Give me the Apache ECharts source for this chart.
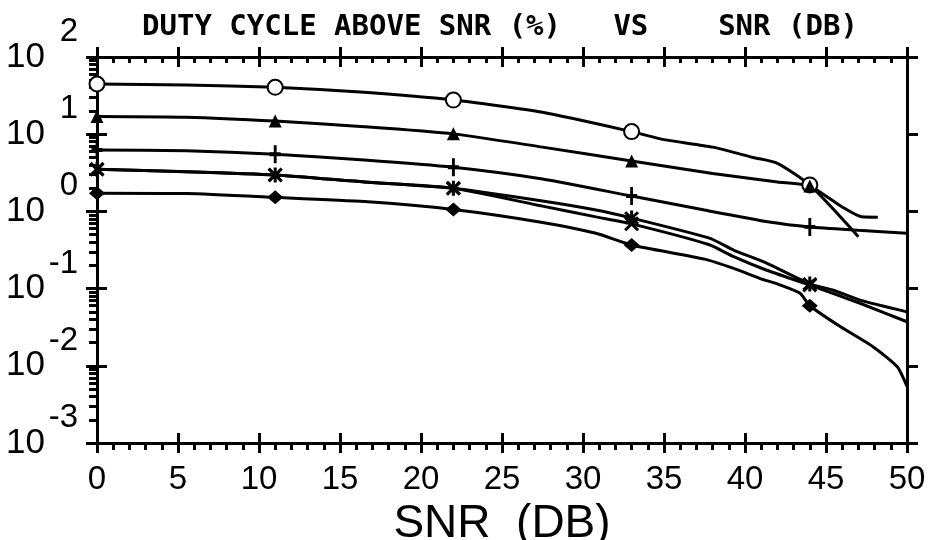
<!DOCTYPE html>
<html>
<head>
<meta charset="utf-8">
<script src="https://cdn.jsdelivr.net/npm/echarts@6/dist/echarts.min.js"></script>
<style>
html, body { margin: 0; background: #fff; }
#main { width: 941px; height: 540px; }
</style>
</head>
<body>
<div id="main"></div>
<script>
// SNR (dB) where the plotter put a marker on every curve
var markerSnr = [0, 11, 22, 33, 44];

// circle curve
var snrCircle = [0, 5.5, 11, 16.5, 22, 27.5, 33, 35, 38, 40.5, 42, 44, 47];
var dutyCircle = [44.7, 43.4, 40.5, 34.9, 27.7, 19.2, 10.8, 8.5, 6.8, 5.0, 4.2, 2.2, 0.47];

// triangle curve
var snrTri = [0, 5.5, 11, 16.5, 22, 27.5, 33, 38, 42, 44, 46, 47.2, 48.2];
var dutyTri = [17.0, 16.6, 14.8, 12.5, 10.1, 6.8, 4.5, 3.1, 2.4, 2.13, 1.14, 0.85, 0.84];

// plus curve
var snrPlus = [0, 5.5, 11, 16.5, 22, 27.5, 33, 37.5, 41.5, 44, 47, 50];
var dutyPlus = [6.24, 6.1, 5.49, 4.63, 3.73, 2.63, 1.58, 1.04, 0.73, 0.63, 0.57, 0.52];

// asterisk curve
var snrStar = [0, 5.5, 11, 16.5, 22, 27.5, 30.8, 33, 37.8, 39.3, 41.3, 44, 45.4, 47.1, 50];
var dutyStar = [3.51, 3.27, 2.96, 2.40, 1.99, 1.36, 1.04, 0.82, 0.45, 0.316, 0.215, 0.115, 0.096, 0.071, 0.050];

// cross curve
var snrCross = [0, 5.5, 11, 16.5, 22, 27.5, 30.8, 33, 37.8, 39.3, 41.3, 44, 47.1, 50];
var dutyCross = [3.51, 3.27, 2.96, 2.40, 1.99, 1.17, 0.85, 0.69, 0.37, 0.259, 0.174, 0.111, 0.0646, 0.0372];

// diamond curve
var snrDiamond = [0, 5.5, 11, 16.5, 22, 27.5, 30.8, 33, 37.5, 39.3, 40.9, 42.2, 43.4, 44, 45.9, 47.9, 49.4, 50];
var dutyDiamond = [1.72, 1.70, 1.52, 1.34, 1.06, 0.72, 0.52, 0.367, 0.241, 0.183, 0.136, 0.111, 0.087, 0.060, 0.032, 0.0177, 0.0097, 0.0054];

// log minor tick positions (2..9 in each decade)
var minorTicks = [];
for (var e = -3; e < 2; e++) {
  for (var k = 2; k <= 9; k++) minorTicks.push(+(k * Math.pow(10, e)).toPrecision(3));
}

var plusPath = 'path://M-1.3,-5H1.3V-1.1H5V1.1H1.3V5H-1.3V1.1H-5V-1.1H-1.3Z';
var crossPath = 'path://M-5,-3.6L-3.6,-5L0,-1.4L3.6,-5L5,-3.6L1.4,0L5,3.6L3.6,5L0,1.4L-3.6,5L-5,3.6L-1.4,0Z';
var starPath = crossPath + 'M-1,-5.5H1V5.5H-1Z';

function mkData(xs, ys) {
  return xs.map(function (x, i) {
    if (markerSnr.indexOf(x) >= 0) return [x, ys[i]];
    return { value: [x, ys[i]], symbol: 'none' };
  });
}

function curve(xs, ys, symbol, size) {
  return {
    type: 'line',
    data: mkData(xs, ys),
    symbol: symbol,
    symbolSize: size,
    showAllSymbol: true,
    smooth: 0.2,
    clip: false,
    lineStyle: { color: '#000', width: 3 },
    itemStyle: { color: '#000', borderColor: '#000', borderWidth: symbol === 'emptyCircle' ? 3.5 : 0 },
    z: 5
  };
}

var font = 'Liberation Sans';
var black = '#000';

var dom = document.getElementById('main');
var myChart = echarts.init(dom, null, { renderer: 'canvas' });

var logAxis = { type: 'log', logBase: 10, min: 0.001, max: 100 };

var option = {
  animation: false,
  backgroundColor: '#fff',
  title: {
    text: 'DUTY CYCLE ABOVE SNR (%)   VS    SNR (DB)',
    left: 137,
    top: 8,
    textStyle: { fontFamily: 'DejaVu Sans Mono', fontWeight: 'bold', fontSize: 29, color: black }
  },
  grid: { left: 97, right: 34, top: 57, bottom: 97, containLabel: false, outerBoundsMode: 'none' },
  xAxis: [
    {
      type: 'value', position: 'bottom', min: 0, max: 50, interval: 5,
      name: 'SNR  (DB)', nameLocation: 'middle', nameGap: 45,
      nameTextStyle: { fontFamily: font, fontSize: 46, color: black },
      axisLine: { show: true, lineStyle: { color: black, width: 3 } },
      axisTick: { show: true, inside: false, length: 10, lineStyle: { color: black, width: 3 } },
      minorTick: { show: true, splitNumber: 5, length: 7, lineStyle: { color: black, width: 3 } },
      axisLabel: { show: true, margin: 20, fontFamily: font, fontSize: 33, color: black, showMinLabel: true, showMaxLabel: true },
      splitLine: { show: false }
    },
    {
      type: 'value', position: 'bottom', min: 0, max: 50, interval: 5,
      axisLine: { show: false },
      axisTick: { show: true, inside: true, length: 10, lineStyle: { color: black, width: 3 } },
      axisLabel: { show: false },
      splitLine: { show: false }
    },
    {
      type: 'value', position: 'top', min: 0, max: 50, interval: 5,
      axisLine: { show: true, onZero: false, lineStyle: { color: black, width: 3 } },
      axisTick: { show: true, inside: true, length: 10, lineStyle: { color: black, width: 3 } },
      minorTick: { show: true, splitNumber: 5, length: 6, lineStyle: { color: black, width: 3 } },
      axisLabel: { show: false },
      splitLine: { show: false }
    },
    {
      type: 'value', position: 'top', min: 0, max: 50, interval: 5,
      axisLine: { show: false },
      axisTick: { show: true, inside: false, length: 10, lineStyle: { color: black, width: 3 } },
      axisLabel: { show: false },
      splitLine: { show: false }
    }
  ],
  yAxis: [
    Object.assign({}, logAxis, {
      position: 'left',
      axisLine: { show: true, onZero: false, lineStyle: { color: black, width: 3 } },
      axisTick: { show: true, inside: false, length: 10, lineStyle: { color: black, width: 3 } },
      axisLabel: {
        show: true, margin: 19, showMinLabel: true, showMaxLabel: true,
        formatter: function (v) {
          var p = Math.round(Math.log10(v));
          return '{b|10}{e|' + p + '}';
        },
        rich: {
          b: { fontFamily: font, fontSize: 35, color: black, width: 45, align: 'left' },
          e: { fontFamily: font, fontSize: 33, color: black, width: 27, align: 'right', padding: [0, 0, 50, 0] }
        }
      },
      splitLine: { show: false }
    }),
    Object.assign({}, logAxis, {
      position: 'left',
      axisLine: { show: false },
      axisTick: { show: true, inside: true, length: 10, lineStyle: { color: black, width: 3 } },
      axisLabel: { show: false },
      splitLine: { show: false }
    }),
    Object.assign({}, logAxis, {
      position: 'left',
      axisLine: { show: false },
      axisTick: { show: true, inside: false, length: 8, customValues: minorTicks, lineStyle: { color: black, width: 3 } },
      axisLabel: { show: false },
      splitLine: { show: false }
    }),
    Object.assign({}, logAxis, {
      position: 'right',
      axisLine: { show: true, onZero: false, lineStyle: { color: black, width: 3 } },
      axisTick: { show: true, inside: false, length: 11, lineStyle: { color: black, width: 3 } },
      axisLabel: { show: false },
      splitLine: { show: false }
    }),
    Object.assign({}, logAxis, {
      position: 'right',
      axisLine: { show: false },
      axisTick: { show: true, inside: true, length: 11, lineStyle: { color: black, width: 3 } },
      axisLabel: { show: false },
      splitLine: { show: false }
    })
  ],
  series: [
    curve(snrCircle, dutyCircle, 'emptyCircle', 15),
    curve(snrTri, dutyTri, 'triangle', 13),
    curve(snrPlus, dutyPlus, plusPath, [11, 18]),
    curve(snrStar, dutyStar, starPath, 15),
    curve(snrCross, dutyCross, crossPath, 15),
    curve(snrDiamond, dutyDiamond, 'diamond', [16, 14])
  ]
};

if (option && typeof option === 'object') {
  myChart.setOption(option);
}
</script>
</body>
</html>
